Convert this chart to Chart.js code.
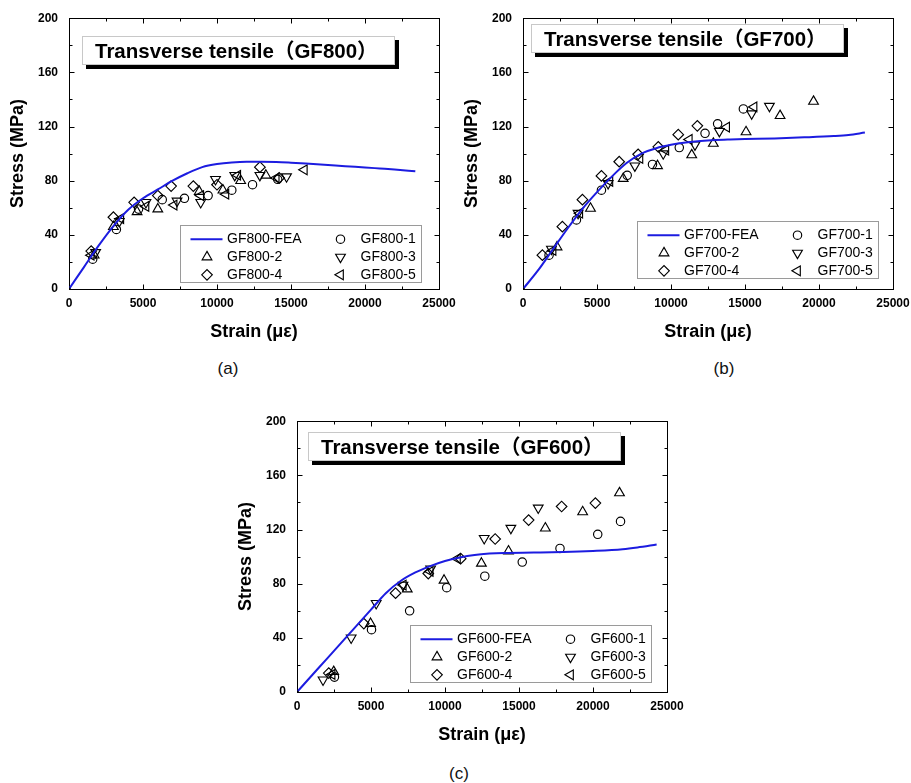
<!DOCTYPE html>
<html>
<head>
<meta charset="utf-8">
<script src="https://cdn.jsdelivr.net/npm/chart.js@4.4.1/dist/chart.umd.min.js"></script>
<style>
  html, body { margin: 0; padding: 0; background: #fff; }
  #page { position: relative; width: 911px; height: 783px; overflow: hidden; font-family: "Liberation Sans", Arial, sans-serif; }
  canvas { position: absolute; }
  .tbox { position: absolute; box-sizing: border-box; width: 313px; height: 29px; background: #fff;
          border: 1px solid #c8c8c8; box-shadow: 4px 4px 0 #000; color: #000; white-space: nowrap;
          font: bold 20.5px "Liberation Sans", "Noto Sans CJK SC", sans-serif; line-height: 27px; padding-left: 12px; }
  .cap { position: absolute; font-size: 17px; color: #111; transform: translate(-50%, -50%); }
</style>
</head>
<body>
<div id="page">
  <canvas id="c800" width="470" height="350" style="left:0;top:0"></canvas>
  <canvas id="c700" width="470" height="350" style="left:454px;top:0"></canvas>
  <canvas id="c600" width="470" height="350" style="left:228px;top:403px"></canvas>
  <div class="tbox" style="left:82px;top:36px">Transverse tensile（GF800）</div>
  <div class="tbox" style="left:531px;top:24px">Transverse tensile（GF700）</div>
  <div class="tbox" style="left:308px;top:432px">Transverse tensile（GF600）</div>
  <div class="cap" style="left:228px;top:369px">(a)</div>
  <div class="cap" style="left:724px;top:369px">(b)</div>
  <div class="cap" style="left:459px;top:774px">(c)</div>
</div>
<script>
// --- GF800 [strain, stress]
const FEA800 = [[0,0],[1000,16],[2000,32],[3000,46.5],[4000,58.5],[5000,67],[6000,73.5],[7000,80],[8000,85.5],[9000,90],[10000,92.3],[11000,93.5],[12000,94],[13000,94],[14000,93.8],[15000,93.3],[16000,92.7],[17000,92],[18000,91.2],[19000,90.5],[20000,89.8],[21000,89],[22000,88.2],[23400,87]];
const GF800_1 = [[1600,22],[3200,44],[4700,59],[6300,66],[7800,67],[9400,69],[11000,73],[12400,77],[14100,81]];
const GF800_2 = [[1700,25],[3000,46],[4600,57],[6000,59],[8800,72],[10400,73],[11600,80],[13300,84]];
const GF800_3 = [[1800,27],[3400,50],[5200,64],[7300,65],[8900,64],[9900,81],[11200,84],[12900,84],[14700,83]];
const GF800_4 = [[1500,28],[3000,53],[4400,64],[6000,69],[6900,76],[8400,76],[10000,77],[12900,90],[14200,82]];
const GF800_5 = [[1500,25],[3500,52],[5200,61],[7100,62],[8900,69],[10600,70],[11400,84],[14000,82],[15900,88]];
const names800 = ['GF800-FEA','GF800-1','GF800-2','GF800-3','GF800-4','GF800-5'];

// --- GF700
const FEA700 = [[0,0],[1000,13.5],[2000,29],[3000,44.5],[4000,59],[5000,71.5],[6000,83],[7000,93],[8000,100],[9000,104],[10000,106.5],[11000,108.2],[12000,109.3],[13000,110],[14000,110.4],[15000,110.7],[17000,111.2],[19000,112],[21000,113],[22000,113.8],[23100,115.5]];
const GF700_1 = [[1760,25],[3610,51],[5300,73],[7040,84],[8750,92],[10560,104.5],[12300,115],[13150,122],[14890,133]];
const GF700_2 = [[2300,31],[4560,59.5],[6770,81.5],[9090,91],[11400,99],[12860,107.5],[15070,116],[17370,128],[19630,138.5]];
const GF700_3 = [[1920,29.5],[3720,56],[5750,78],[7560,91],[9475,100],[11620,106.5],[13270,116.5],[15450,129.5],[16650,135]];
const GF700_4 = [[1310,25],[2660,46],[4015,66],[5300,83.5],[6500,94],[7780,99.5],[9140,105],[10490,114],[11780,120.5]];
const GF700_5 = [[2030,28.5],[3835,56],[5870,79.5],[7900,96.5],[9650,102.5],[11235,110.5],[13760,119.5],[15610,134.5]];
const names700 = ['GF700-FEA','GF700-1','GF700-2','GF700-3','GF700-4','GF700-5'];

// --- GF600
const FEA600 = [[0,0],[1000,12.2],[2000,24.3],[3000,36.5],[4000,48.6],[5000,60.8],[6000,73],[7000,82],[8000,88.3],[9000,93],[10000,96.8],[11000,99.4],[12000,101.2],[13000,102.2],[14000,102.7],[16000,103],[18000,103.4],[20000,104.2],[22000,105.5],[23000,106.8],[24300,109]];
const GF600_1 = [[2530,11],[5035,46],[7610,60],[10115,77],[12690,85.5],[15220,96],[17770,106],[20320,116.5],[21860,126]];
const GF600_2 = [[2480,15],[4970,50.5],[7450,76],[9935,82.5],[12460,95],[14290,104],[16780,121],[19300,133],[21790,147]];
const GF600_3 = [[1760,9],[3660,40],[5350,65.5],[7160,79],[9030,91],[12650,113.5],[14450,121],[16300,136]];
const GF600_4 = [[2145,14],[4515,50.5],[6660,73],[8870,87.5],[11060,98.5],[13390,113],[15650,127],[17880,137],[20160,139.5]];
const GF600_5 = [[2370,13],[7180,79],[9000,89],[10840,98.5]];
const names600 = ['GF600-FEA','GF600-1','GF600-2','GF600-3','GF600-4','GF600-5'];

const strainTicks = [0, 25000, 5000];  // min, max, step
const stressTicks = [0, 200, 40];

const FONT = '"Liberation Sans", Arial, sans-serif';
const markers = ['circle', 'triangle', 'triangle', 'rectRot', 'triangle'];
const turns = [0, 0, 180, 0, 270];
const msize = [4.2, 5.6, 5.6, 5.3, 5.6];

// box with inward major/minor ticks on all four sides, like Origin
const frameTicks = {
  id: 'frameTicks',
  beforeDatasetsDraw(chart) {
    const {ctx, chartArea: a, scales: {x, y}} = chart;
    const L = Math.round(a.left) + 0.5, R = Math.round(a.right) + 0.5;
    const T = Math.round(a.top) + 0.5, B = Math.round(a.bottom) + 0.5;
    ctx.save();
    ctx.strokeStyle = '#000';
    ctx.lineWidth = 1;
    ctx.strokeRect(L, T, R - L, B - T);
    ctx.beginPath();
    const xs = x.ticks.map(t => t.value), ys = y.ticks.map(t => t.value);
    const dx = xs[1] - xs[0], dy = ys[1] - ys[0];
    for (let v = xs[0]; v <= xs[xs.length - 1] + 1e-6; v += dx / 2) {
      const len = Math.abs((v / dx) - Math.round(v / dx)) < 1e-6 ? 5 : 3;
      const px = Math.round(x.getPixelForValue(v)) + 0.5;
      ctx.moveTo(px, B); ctx.lineTo(px, B - len);
      ctx.moveTo(px, T); ctx.lineTo(px, T + len);
    }
    for (let v = ys[0]; v <= ys[ys.length - 1] + 1e-6; v += dy / 2) {
      const len = Math.abs((v / dy) - Math.round(v / dy)) < 1e-6 ? 5 : 3;
      const py = Math.round(y.getPixelForValue(v)) + 0.5;
      ctx.moveTo(L, py); ctx.lineTo(L + len, py);
      ctx.moveTo(R, py); ctx.lineTo(R - len, py);
    }
    ctx.stroke();
    ctx.restore();
  }
};

// two-column legend box inside the plot
const boxLegend = {
  id: 'boxLegend',
  afterDraw(chart, args, opts) {
    const {ctx, chartArea: a} = chart;
    const L = Math.round(a.left + opts.dx) + 0.5, H = 57, W = 241;
    const T = Math.round(a.bottom - opts.dy - H) + 0.5;
    ctx.save();
    ctx.fillStyle = '#fff';
    ctx.fillRect(L, T, W, H);
    ctx.strokeStyle = '#9a9a9a';
    ctx.lineWidth = 1;
    ctx.strokeRect(L, T, W, H);
    ctx.font = '14px ' + FONT;
    ctx.textBaseline = 'middle';
    chart.data.datasets.forEach((ds, i) => {
      const col = i % 2, row = Math.floor(i / 2);
      const cy = T + 13.7 + row * 17.8;
      if (ds.showLine) {
        ctx.strokeStyle = ds.borderColor;
        ctx.lineWidth = ds.borderWidth;
        ctx.beginPath();
        ctx.moveTo(L + 10, cy); ctx.lineTo(L + 42, cy);
        ctx.stroke();
      } else {
        ctx.strokeStyle = ds.pointBorderColor;
        ctx.fillStyle = 'rgba(0,0,0,0)';
        ctx.lineWidth = ds.pointBorderWidth;
        Chart.helpers.drawPoint(ctx, {pointStyle: ds.pointStyle, rotation: ds.rotation,
          radius: ds.pointRadius, borderWidth: ds.pointBorderWidth}, L + (col ? 160 : 26.5), cy);
      }
      ctx.fillStyle = '#000';
      ctx.fillText(ds.label, L + (col ? 180 : 46.5), cy);
    });
    ctx.restore();
  }
};

function toXY(pairs) { return pairs.map(([x, y]) => ({x, y})); }

function makeChart(id, fea, sets, names, legendPos) {
  const datasets = [{
    label: names[0], data: toXY(fea), showLine: true, borderColor: '#1c1ce0', borderWidth: 2,
    cubicInterpolationMode: 'monotone',
    pointRadius: c => c.dataIndex === 0 ? 1.8 : 0, pointBackgroundColor: '#000', pointBorderWidth: 0
  }];
  sets.forEach((s, i) => datasets.push({
    label: names[i + 1], data: toXY(s), showLine: false,
    pointStyle: markers[i], rotation: turns[i], pointRadius: msize[i],
    pointBorderColor: '#000', pointBackgroundColor: 'rgba(0,0,0,0)', pointBorderWidth: 1.15
  }));
  const tickFont = {family: FONT, size: 12, weight: 'bold'};
  const titleFont = {family: FONT, size: 18, weight: 'bold'};
  return new Chart(document.getElementById(id), {
    type: 'scatter',
    data: {datasets},
    options: {
      responsive: false,
      animation: false,
      layout: {padding: {left: 0, top: 15, right: 31, bottom: 0}},
      scales: {
        x: {
          type: 'linear', min: strainTicks[0], max: strainTicks[1],
          afterFit: s => { s.height = 61; },
          ticks: {stepSize: strainTicks[2], autoSkip: false, maxRotation: 0, padding: 7, color: '#000', font: tickFont,
                  callback: v => String(v)},
          grid: {display: false, drawTicks: false},
          border: {display: false},
          title: {display: true, text: 'Strain (με)', color: '#000', font: titleFont, padding: {top: 0, bottom: 7.5}}
        },
        y: {
          type: 'linear', min: stressTicks[0], max: stressTicks[1],
          afterFit: s => { s.width = 69; },
          ticks: {stepSize: stressTicks[2], padding: 11, color: '#000', font: tickFont, callback: v => String(v)},
          grid: {display: false, drawTicks: false},
          border: {display: false},
          title: {display: true, text: 'Stress (MPa)', color: '#000', font: titleFont, padding: {top: 7.7, bottom: 0}}
        }
      },
      plugins: {
        legend: {display: false},
        tooltip: {enabled: false},
        boxLegend: legendPos
      }
    },
    plugins: [frameTicks, boxLegend]
  });
}

makeChart('c800', FEA800, [GF800_1, GF800_2, GF800_3, GF800_4, GF800_5], names800, {dx: 111, dy: 7});
makeChart('c700', FEA700, [GF700_1, GF700_2, GF700_3, GF700_4, GF700_5], names700, {dx: 114, dy: 11});
makeChart('c600', FEA600, [GF600_1, GF600_2, GF600_3, GF600_4, GF600_5], names600, {dx: 113, dy: 10});
</script>
</body>
</html>
